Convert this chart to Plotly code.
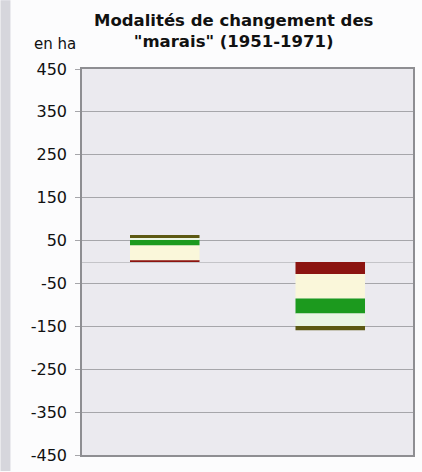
import plotly.graph_objects as go

# Data (ha), stacked from 0 outward
categories = ["Gains", "Pertes"]
series_names = ["Série 1", "Série 2", "Série 3", "Série 4", "Série 5"]
serie_1 = [4, -28]
serie_2 = [35, -57]
serie_3 = [13, -35]
serie_4 = [4, -29]
serie_5 = [7, -10]
tick_vals = [450, 350, 250, 150, 50, -50, -150, -250, -350, -450]

colors = ["#8C1410", "#FAF7DA", "#1C9A1E", "#EAF5E4", "#5C5812"]
values = [serie_1, serie_2, serie_3, serie_4, serie_5]

W, H = 422, 472
L, R, T, B = 82, 7, 69, 16
pw, ph = W - L - R, H - T - B
FONT = "DejaVu Sans, Liberation Sans, Arial, sans-serif"


def px_x(x):
    return (x - L) / pw


def px_y(y):
    return 1 - (y - T) / ph


fig = go.Figure()
for name, vals, col in zip(series_names, values, colors):
    fig.add_trace(go.Bar(x=categories, y=vals, name=name,
                         marker=dict(color=col, line=dict(width=0))))

fig.update_layout(
    width=W, height=H,
    margin=dict(l=L, r=R, t=T, b=B),
    barmode="relative",
    bargap=0.58,
    showlegend=False,
    paper_bgcolor="#FCFCFD",
    plot_bgcolor="#EBEAEF",
    font=dict(family=FONT, color="#111111"),
    xaxis=dict(showticklabels=False, showgrid=False, zeroline=False,
               showline=True, linecolor="#8E8E92", linewidth=1.5, mirror=True,
               ticks=""),
    yaxis=dict(range=[-450, 450], tickvals=tick_vals,
               ticktext=[str(v) for v in tick_vals],
               showgrid=True, gridcolor="#A6A6AA", gridwidth=1,
               zeroline=True, zerolinecolor="#C4C4C8", zerolinewidth=1,
               showline=True, linecolor="#8E8E92", linewidth=1.5, mirror=True,
               ticks="outside", ticklen=5, tickcolor="#A6A6AA",
               tickfont=dict(size=16, color="#111111"), ticklabelstandoff=5),
)

# left grey strip of the frame
fig.add_shape(type="rect", xref="paper", yref="paper",
              x0=px_x(0), x1=px_x(10), y0=px_y(H), y1=px_y(0),
              fillcolor="#D6D6DC", line=dict(width=0), layer="below")

fig.add_annotation(xref="paper", yref="paper", x=px_x(235), y=px_y(31),
                   text="<b>Modalités de changement des<br>\"marais\" (1951-1971)</b>",
                   showarrow=False, font=dict(size=16.5, color="#111111"),
                   xanchor="center", yanchor="middle", align="center")
fig.add_annotation(xref="paper", yref="paper", x=px_x(32), y=px_y(44),
                   text="en ha", showarrow=False,
                   font=dict(size=15, color="#111111"),
                   xanchor="left", yanchor="middle")

fig.write_html("out.html", config={"displayModeBar": False},
               post_script="document.body.style.margin='0';document.body.style.padding='0';")
